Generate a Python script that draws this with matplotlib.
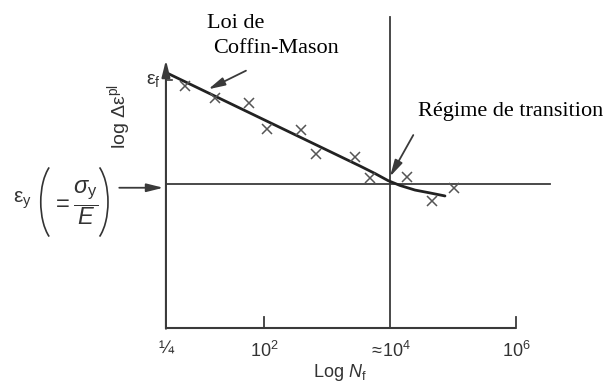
import matplotlib
matplotlib.use("Agg")
import matplotlib.pyplot as plt
from matplotlib.patches import Arc

plt.rcParams['font.family'] = ['Liberation Sans', 'DejaVu Sans']
plt.rcParams['mathtext.fontset'] = 'custom'
plt.rcParams['mathtext.rm'] = 'Liberation Sans'
plt.rcParams['mathtext.it'] = 'Liberation Sans:italic'
plt.rcParams['mathtext.bf'] = 'Liberation Sans:bold'

# schematic axes: x is log10(N_f), y is log strain (eps_y = 1)
x_origin = 0.444
x_ticks = [x_origin, 2, 4, 6]
x_ticklabels = ['¼', r'$10^2$', r'$\approx\!10^4$', r'$10^6$']
eps_y = 1.0
eps_f = 1.722
n_transition = 4

# measured points (crosses)
pts_x = [0.746, 1.222, 1.767, 2.043, 2.583, 2.821, 3.449, 3.683, 4.275, 4.662, 5.017]
pts_y = [1.681, 1.595, 1.560, 1.380, 1.375, 1.207, 1.185, 1.039, 1.050, 0.884, 0.970]

# Coffin-Manson fit, bending past the transition
fit_x = [0.460, 2.571, 3.524, 3.762, 3.968, 4.159, 4.397, 4.635, 4.873]
fit_y = [1.771, 1.326, 1.125, 1.073, 1.024, 0.990, 0.958, 0.938, 0.917]

ink = '#3a3a3a'
txt = '#333333'
arrow = dict(arrowstyle='-|>,head_length=1.0,head_width=0.25',
             color=ink, lw=1.3, shrinkA=0, shrinkB=0)

fig = plt.figure(figsize=(6.06, 3.85), dpi=100)
ax = fig.add_axes([0, 0, 1, 1])
ax.set_xlim(-2.190, 7.429)
ax.set_ylim(-0.396, 2.278)
ax.axis('off')

# axes lines
ax.plot([x_origin, 6], [0, 0], color=ink, lw=1.5, solid_capstyle='butt')
ax.annotate('', xy=(x_origin, 1.861), xytext=(x_origin, -0.005),
            arrowprops=dict(arrow, lw=1.5))
for t in x_ticks[1::2]:
    ax.plot([t, t], [0, 0.075], color=ink, lw=1.3)
ax.plot([x_origin, x_origin + 0.1], [eps_f, eps_f], color=ink, lw=1.2)

# eps_y level and transition life
ax.plot([x_origin, 6.54], [eps_y, eps_y], color=ink, lw=1.3)
ax.plot([n_transition, n_transition], [0, 2.16], color=ink, lw=1.3)

ax.plot(fit_x, fit_y, color='#222222', lw=2.0, solid_capstyle='round',
        solid_joinstyle='round')
ax.plot(pts_x, pts_y, ls='none', marker='x', ms=7.5, mew=1.1, color='#555555')

# tick labels
for t, lab in zip(x_ticks, x_ticklabels):
    ax.text(t, -0.09, lab, ha='center', va='top', fontsize=13, color=txt)
ax.text(3.2, -0.235, r'Log $N_\mathrm{f}$', ha='center', va='top', fontsize=13, color=txt)

ax.text(0.365, eps_f, r'$\mathrm{\epsilon}_\mathrm{f}$', ha='right', va='center',
        fontsize=14, color=txt)
ax.text(-0.30, 1.47, r'log $\Delta\mathrm{\epsilon}^\mathrm{pl}$', ha='center', va='center',
        rotation=90, fontsize=14, color=txt)

# eps_y = sigma_y / E with tall thin brackets
ax.text(-1.984, 0.868, r'$\mathrm{\epsilon}_\mathrm{y}$', ha='left', va='baseline',
        fontsize=15, color=txt)
ax.text(-0.995, 0.868, r'$=\dfrac{\sigma_\mathrm{y}}{E}$', ha='center', va='center',
        fontsize=17, color=txt)
ax.add_patch(Arc((-1.235, 0.875), 0.616, 0.583, theta1=126, theta2=234,
                 color=txt, lw=1.2))
ax.add_patch(Arc((-0.784, 0.875), 0.616, 0.583, theta1=-54, theta2=54,
                 color=txt, lw=1.2))
ax.annotate('', xy=(0.402, 0.974), xytext=(-0.297, 0.974), arrowprops=arrow)

# annotations
ax.text(1.095, 2.083, 'Loi de', family='Liberation Serif', fontsize=16, va='baseline')
ax.text(1.19, 1.910, 'Coffin-Mason', family='Liberation Serif', fontsize=16, va='baseline')
ax.annotate('', xy=(1.116, 1.658), xytext=(1.714, 1.787), arrowprops=arrow)
ax.text(4.444, 1.474, 'Régime de transition', family='Liberation Serif', fontsize=16,
        va='baseline')
ax.annotate('', xy=(4.0, 1.051), xytext=(4.370, 1.340), arrowprops=arrow)

fig.savefig('out.png', dpi=100)
